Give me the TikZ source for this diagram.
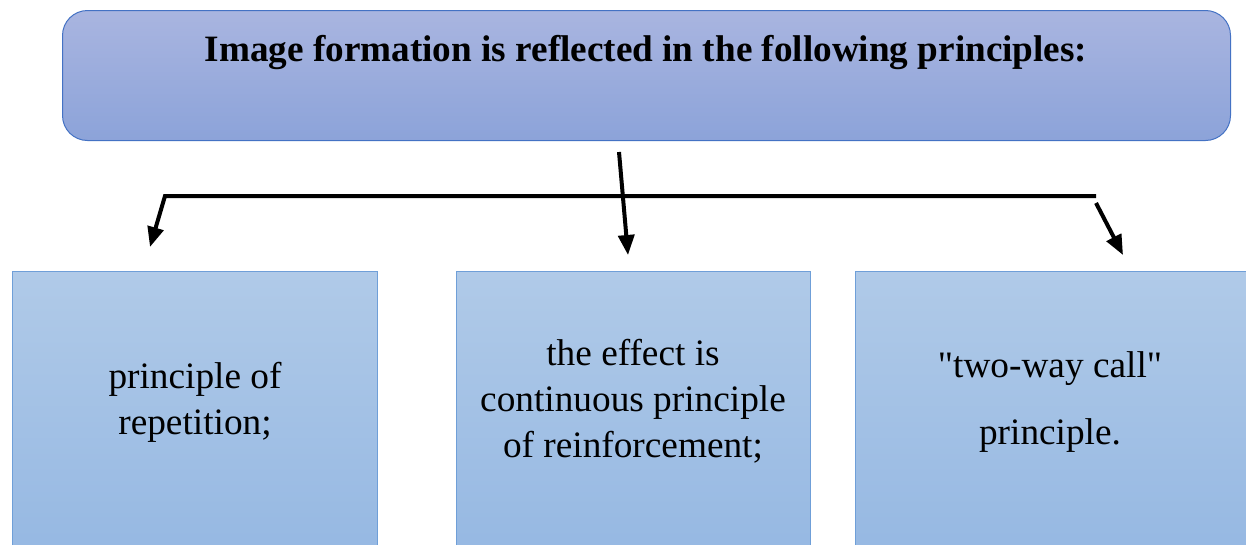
\documentclass[tikz,border=0pt]{standalone}
\usepackage{fontspec}
\setmainfont{Liberation Serif}[Ligatures=TeXOff]
\usetikzlibrary{arrows.meta}
\definecolor{topA}{HTML}{A9B5E0}
\definecolor{topB}{HTML}{8CA3D9}
\definecolor{topLine}{HTML}{4472C4}
\definecolor{boxA}{HTML}{B0CAE8}
\definecolor{boxB}{HTML}{94B7E2}
\definecolor{boxLine}{HTML}{6F9FD8}
\tikzset{
  headbox/.style={draw=topLine, line width=1pt, rounded corners=25pt, top color=topA, bottom color=topB, inner sep=0pt, anchor=north west},
  itembox/.style={draw=boxLine, line width=1pt, top color=boxA, bottom color=boxB, inner sep=0pt, anchor=north west},
  itemtext/.style={align=center, font=\fontsize{37.3}{46}\selectfont, inner sep=0pt},
  conn/.style={line width=4pt, line join=miter, -{Triangle[length=20pt,width=16pt]}}
}
\begin{document}
\begin{tikzpicture}[x=1pt,y=-1pt]
\clip (0,0) rectangle (1246,544);
\fill[white] (0,0) rectangle (1246,544);
% header
\node[headbox, minimum width=1168pt, minimum height=130pt] (head) at (62,10) {};
\node[font=\bfseries\fontsize{37.2}{44}\selectfont, anchor=base, inner sep=0pt] (title) at (646,61) {Image formation is reflected in the following principles:};
% item boxes
\node[itembox, minimum width=365pt, minimum height=300pt] (b1) at (12,271) {};
\node[itembox, minimum width=354pt, minimum height=300pt] (b2) at (456,271) {};
\node[itembox, minimum width=400pt, minimum height=300pt] (b3) at (855,271) {};
\node[itemtext, anchor=base] (t1) at (195,434) {principle of\\repetition;};
\node[itemtext, anchor=base] (t2) at (633,457) {the effect is\\continuous principle\\of reinforcement;};
\node[itemtext, anchor=base] (t3) at (1050,444) {"two-way call"\\[21pt]principle.};
% connector points
\coordinate (hl) at (165,196);
\coordinate (hr) at (1096,196);
\coordinate (a1) at (150,247);
\coordinate (cs) at (619,152);
\coordinate (a2) at (628,255);
\coordinate (rs) at (1096,203);
\coordinate (a3) at (1123,255);
\draw[conn] (hr) -- (hl) -- (a1);
\draw[conn] (cs) -- (a2);
\draw[conn] (rs) -- (a3);
\end{tikzpicture}
\end{document}
